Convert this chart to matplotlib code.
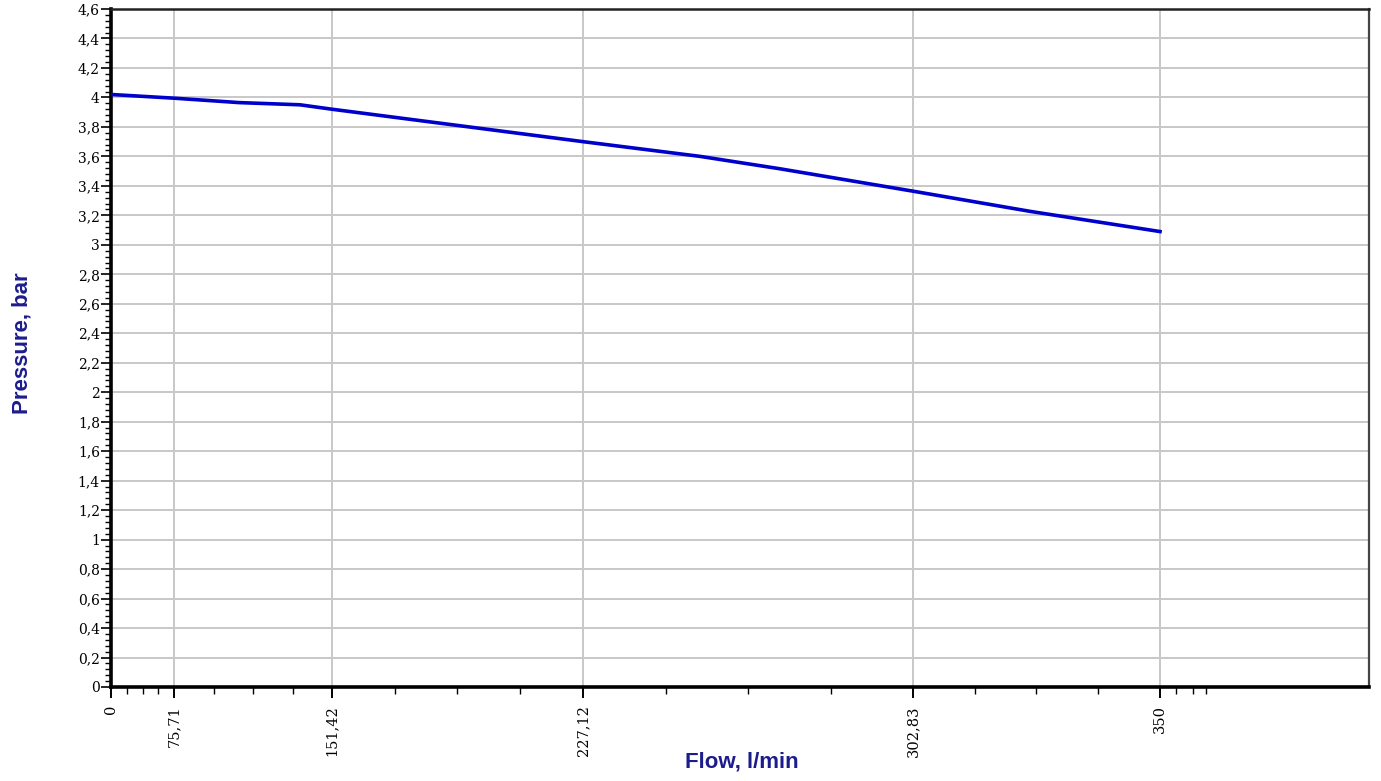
import numpy as np
import matplotlib
matplotlib.use("Agg")
import matplotlib.pyplot as plt
from matplotlib.ticker import FixedLocator, MultipleLocator, FuncFormatter

# ---- data ----
flow = [0, 75.71, 106.9, 136.1, 151.42, 227.12, 254.0, 272.3, 302.83, 325.2, 350]
pressure = [4.02, 3.995, 3.965, 3.95, 3.92, 3.70, 3.60, 3.516, 3.364, 3.227, 3.09]
x_ticks = [0, 75.71, 151.42, 227.12, 302.83, 350]
x_tick_labels = ["0", "75,71", "151,42", "227,12", "302,83", "350"]
x_max = 390
y_max = 4.6

# ---- non-uniform flow axis (tick values -> relative axis position) ----
scale_vals = np.array(x_ticks + [x_max], dtype=float)
scale_pos = np.array([0, 63, 221, 472, 802, 1049, 1258], dtype=float) / 1258.0

def fwd(v):
    return np.interp(v, scale_vals, scale_pos)

def inv(p):
    return np.interp(p, scale_pos, scale_vals)

fig = plt.figure(figsize=(13.81, 7.81), dpi=100)
W, H = 1381, 781
ax = fig.add_axes([111 / W, 94 / H, (1369 - 111) / W, (687 - 9) / H])
ax.set_xscale("function", functions=(fwd, inv))
ax.set_xlim(0, x_max)
ax.set_ylim(0, y_max)

# minor x ticks: quarters of each labelled interval, plus a few after the last
minor_x = []
for a, b in zip(x_ticks[:-1], x_ticks[1:]):
    minor_x += [a + (b - a) * k / 4 for k in (1, 2, 3)]
minor_x += [353.1, 356.3, 358.8]

ax.xaxis.set_major_locator(FixedLocator(x_ticks))
ax.xaxis.set_minor_locator(FixedLocator(minor_x))
ax.set_xticklabels(x_tick_labels)

ax.yaxis.set_major_locator(MultipleLocator(0.2))
ax.yaxis.set_minor_locator(MultipleLocator(0.04))
def yfmt(v, pos):
    s = ("%.1f" % v).rstrip("0").rstrip(".")
    return s.replace(".", ",")
ax.yaxis.set_major_formatter(FuncFormatter(yfmt))

# grid
ax.set_axisbelow(True)
ax.grid(True, which="major", color="#c8c8c8", linewidth=1.4)
ax.xaxis.get_gridlines()[0].set_visible(False)

# line
ax.plot(flow, pressure, color="#0000cc", linewidth=2.6, solid_joinstyle="miter", zorder=3)

# spines
ax.spines["left"].set_linewidth(2.6)
ax.spines["bottom"].set_linewidth(2.6)
ax.spines["left"].set_color("black")
ax.spines["bottom"].set_color("black")
ax.spines["top"].set_linewidth(1.8)
ax.spines["top"].set_color("#222222")
ax.spines["right"].set_linewidth(1.6)
ax.spines["right"].set_color("#444444")

ax.tick_params(axis="y", which="major", length=7, width=1.2, pad=1, direction="out")
ax.tick_params(axis="y", which="minor", length=4, width=1.0, direction="out")
ax.tick_params(axis="x", which="major", length=8, width=1.4, pad=5, direction="out")
ax.tick_params(axis="x", which="minor", length=5, width=1.0, direction="out")
for lab in ax.get_yticklabels():
    lab.set_fontfamily("DejaVu Serif")
    lab.set_fontsize(10)
for lab in ax.get_xticklabels():
    lab.set_fontfamily("DejaVu Serif")
    lab.set_fontsize(10.5)
    lab.set_rotation(90)
    lab.set_va("top")
    lab.set_ha("center")

label_font = ["Liberation Sans Narrow", "Liberation Sans", "DejaVu Sans"]
fig.text(742 / W, 1 - 762 / H, "Flow, l/min", family=label_font, fontweight="bold",
         fontsize=16, color="#1c1c8c", ha="center", va="center")
fig.text(22 / W, 1 - 343 / H, "Pressure, bar", family=label_font, fontweight="bold",
         fontsize=16, color="#1c1c8c", ha="center", va="center", rotation=90)

fig.savefig("out.png", dpi=100)
